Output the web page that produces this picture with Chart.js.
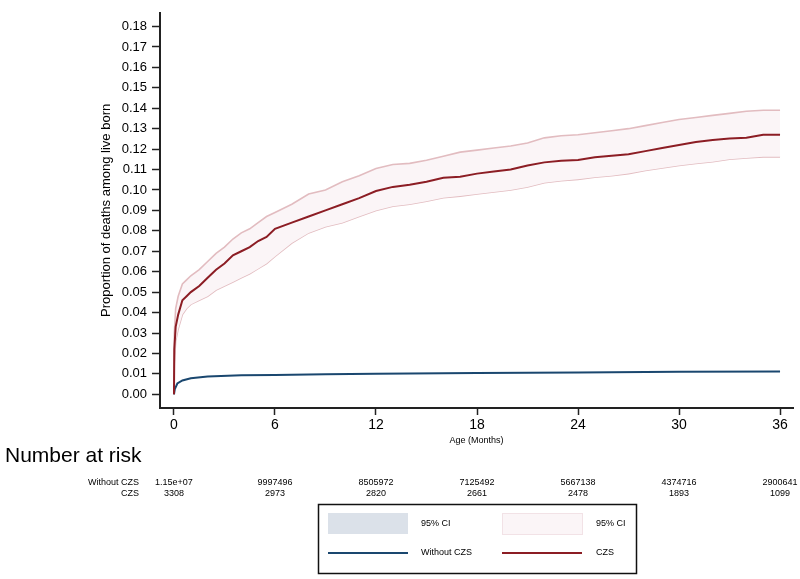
<!DOCTYPE html>
<html>
<head>
<meta charset="utf-8">
<script src="https://cdn.jsdelivr.net/npm/chart.js@4"></script>
<style>
  html, body { margin: 0; padding: 0; background: #fff; }
  #wrap { width: 800px; height: 579px; }
</style>
</head>
<body>
<div id="wrap"><canvas id="kmChart" width="800" height="579"></canvas></div>
<script>
// Cumulative mortality, CZS group
const czsMonths = [0, 0.02, 0.1, 0.25, 0.5, 0.75, 1, 1.5, 2, 2.5, 3, 3.5, 4, 4.5, 5, 5.5, 6, 7, 8, 9, 10, 11, 12,
  13, 14, 15, 16, 17, 18, 19, 20, 21, 22, 23, 24, 25, 26, 27, 28, 29, 30, 31, 32, 33, 34, 35, 36];
const czsEstimate = [0, 0.022, 0.033, 0.039, 0.046, 0.048, 0.050, 0.053, 0.057, 0.061, 0.064, 0.068, 0.070, 0.072,
  0.075, 0.077, 0.081, 0.084, 0.087, 0.090, 0.093, 0.096, 0.0995,
  0.1015, 0.1025, 0.104, 0.106, 0.1065, 0.108, 0.109, 0.110, 0.112, 0.1135, 0.1143, 0.1147, 0.116, 0.1168,
  0.1175, 0.119, 0.1205, 0.122, 0.1235, 0.1245, 0.1252, 0.1255, 0.127, 0.127];
const czsUpper = [0, 0.030, 0.042, 0.048, 0.054, 0.056, 0.058, 0.061, 0.065, 0.069, 0.072, 0.076, 0.079, 0.081,
  0.084, 0.087, 0.089, 0.093, 0.098, 0.100, 0.104, 0.107, 0.1105,
  0.1125, 0.113, 0.1145, 0.1165, 0.1185, 0.1195, 0.1205, 0.1215, 0.123, 0.1255, 0.1265, 0.127, 0.128, 0.129,
  0.130, 0.1315, 0.133, 0.1345, 0.1355, 0.1365, 0.1375, 0.1385, 0.139, 0.139];
const czsLower = [0, 0.015, 0.026, 0.032, 0.039, 0.042, 0.044, 0.046, 0.048, 0.051, 0.053, 0.055, 0.057, 0.059,
  0.0615, 0.064, 0.0675, 0.074, 0.079, 0.082, 0.084, 0.087, 0.090,
  0.092, 0.093, 0.0945, 0.0962, 0.097, 0.098, 0.099, 0.100, 0.1015, 0.1035, 0.1045, 0.1052, 0.1062, 0.107,
  0.108, 0.1095, 0.1108, 0.112, 0.113, 0.1138, 0.115, 0.1157, 0.1162, 0.1162];

// Without CZS group
const noCzsMonths = [0, 0.05, 0.2, 0.5, 1, 2, 4, 6, 9, 12, 18, 24, 30, 36];
const noCzsEstimate = [0, 0.0025, 0.0053, 0.0068, 0.0079, 0.0087, 0.0093, 0.0095, 0.0098, 0.0101, 0.0104, 0.0107, 0.0110, 0.0112];

// Axes
const xTicks = [0, 6, 12, 18, 24, 30, 36];
const yTicks = [0, 0.01, 0.02, 0.03, 0.04, 0.05, 0.06, 0.07, 0.08, 0.09, 0.10, 0.11, 0.12, 0.13, 0.14, 0.15, 0.16, 0.17, 0.18];

// Number at risk table
const riskGroups = ['Without CZS', 'CZS'];
const riskWithout = ['1.15e+07', '9997496', '8505972', '7125492', '5667138', '4374716', '2900641'];
const riskCzs = ['3308', '2973', '2820', '2661', '2478', '1893', '1099'];

const FONT = '"Liberation Sans", Arial, Helvetica, sans-serif';
const NAVY = '#1a476f';
const MAROON = '#8c1d24';
const CI_LINE = '#e2bcc0';
const CI_FILL = '#fbf5f7';

function pts(xs, ys) {
    return xs.map(function(x, i) { return { x: x, y: ys[i] }; });
}

// Risk table + legend box drawn under the plot
const extrasPlugin = {
    id: 'extras',
    afterDraw: function(chart) {
        const ctx = chart.ctx;
        const xs = chart.scales.x;
        const area = chart.chartArea;
        ctx.save();
        ctx.fillStyle = '#000';
        ctx.textBaseline = 'middle';

        ctx.textAlign = 'left';
        ctx.font = '21px ' + FONT;
        ctx.fillText('Number at risk', 5, 456);

        ctx.font = '9px ' + FONT;
        ctx.textAlign = 'right';
        ctx.fillText(riskGroups[0], 139, 483);
        ctx.fillText(riskGroups[1], 139, 494);
        ctx.textAlign = 'center';
        xTicks.forEach(function(t, i) {
            const px = xs.getPixelForValue(t);
            ctx.fillText(riskWithout[i], px, 483);
            ctx.fillText(riskCzs[i], px, 494);
        });

        // legend
        const cx = (area.left + area.right) / 2;
        const bx = Math.round(cx - 159), by = 504, bw = 318, bh = 69;
        ctx.lineWidth = 1.5;
        ctx.strokeStyle = '#111';
        ctx.strokeRect(bx + 0.5, by + 0.5, bw, bh);

        ctx.fillStyle = '#dbe1e9';
        ctx.fillRect(bx + 10, by + 9, 80, 21);
        ctx.fillStyle = CI_FILL;
        ctx.fillRect(bx + 184, by + 9, 80, 21);
        ctx.lineWidth = 1;
        ctx.strokeStyle = '#f2e2e6';
        ctx.strokeRect(bx + 184.5, by + 9.5, 80, 21);

        ctx.lineWidth = 2;
        ctx.strokeStyle = NAVY;
        ctx.beginPath(); ctx.moveTo(bx + 10, by + 49); ctx.lineTo(bx + 90, by + 49); ctx.stroke();
        ctx.strokeStyle = MAROON;
        ctx.beginPath(); ctx.moveTo(bx + 184, by + 49); ctx.lineTo(bx + 264, by + 49); ctx.stroke();

        ctx.fillStyle = '#000';
        ctx.textAlign = 'left';
        ctx.fillText('95% CI', bx + 103, by + 20);
        ctx.fillText('95% CI', bx + 278, by + 20);
        ctx.fillText('Without CZS', bx + 103, by + 49);
        ctx.fillText('CZS', bx + 278, by + 49);
        ctx.restore();
    }
};

new Chart(document.getElementById('kmChart'), {
    type: 'line',
    data: {
        datasets: [
            {
                label: 'CZS',
                data: pts(czsMonths, czsEstimate),
                borderColor: MAROON,
                borderWidth: 2,
                order: 0
            },
            {
                label: 'Without CZS',
                data: pts(noCzsMonths, noCzsEstimate),
                borderColor: NAVY,
                borderWidth: 2,
                order: 1
            },
            {
                label: '95% CI upper',
                data: pts(czsMonths, czsUpper),
                borderColor: CI_LINE,
                borderWidth: 1.6,
                backgroundColor: CI_FILL,
                fill: '+1',
                order: 2
            },
            {
                label: '95% CI lower',
                data: pts(czsMonths, czsLower),
                borderColor: CI_LINE,
                borderWidth: 1.6,
                order: 3
            }
        ]
    },
    options: {
        responsive: false,
        animation: false,
        elements: { point: { radius: 0 }, line: { tension: 0 } },
        layout: { padding: { left: 95, right: 7, top: 5, bottom: 131 } },
        plugins: {
            legend: { display: false },
            tooltip: { enabled: false }
        },
        scales: {
            x: {
                type: 'linear',
                min: -0.83,
                max: 36.77,
                afterBuildTicks: function(scale) { scale.ticks = xTicks.map(function(v) { return { value: v }; }); },
                afterFit: function(scale) { scale.height = 40; },
                border: { display: true, color: '#222', width: 2 },
                grid: { drawOnChartArea: false, drawTicks: true, tickLength: 7, tickColor: '#222', tickWidth: 1.5 },
                ticks: { color: '#000', padding: 2, maxRotation: 0, font: { family: FONT, size: 14 } },
                title: { display: true, text: 'Age (Months)', color: '#000', padding: { top: 0, bottom: 2 }, font: { family: FONT, size: 9 } }
            },
            y: {
                type: 'linear',
                min: -0.0067,
                max: 0.1867,
                afterBuildTicks: function(scale) { scale.ticks = yTicks.map(function(v) { return { value: v }; }); },
                afterFit: function(scale) { scale.width = 65; },
                border: { display: true, color: '#222', width: 2 },
                grid: { drawOnChartArea: false, drawTicks: true, tickLength: 8, tickColor: '#222', tickWidth: 1.5 },
                ticks: {
                    color: '#000', padding: 5, font: { family: FONT, size: 13 },
                    callback: function(v) { return Number(v).toFixed(2); }
                },
                title: { display: true, text: 'Proportion of deaths among live born', color: '#000', padding: { top: 4, bottom: 0 }, font: { family: FONT, size: 13 } }
            }
        }
    },
    plugins: [extrasPlugin]
});
</script>
</body>
</html>
